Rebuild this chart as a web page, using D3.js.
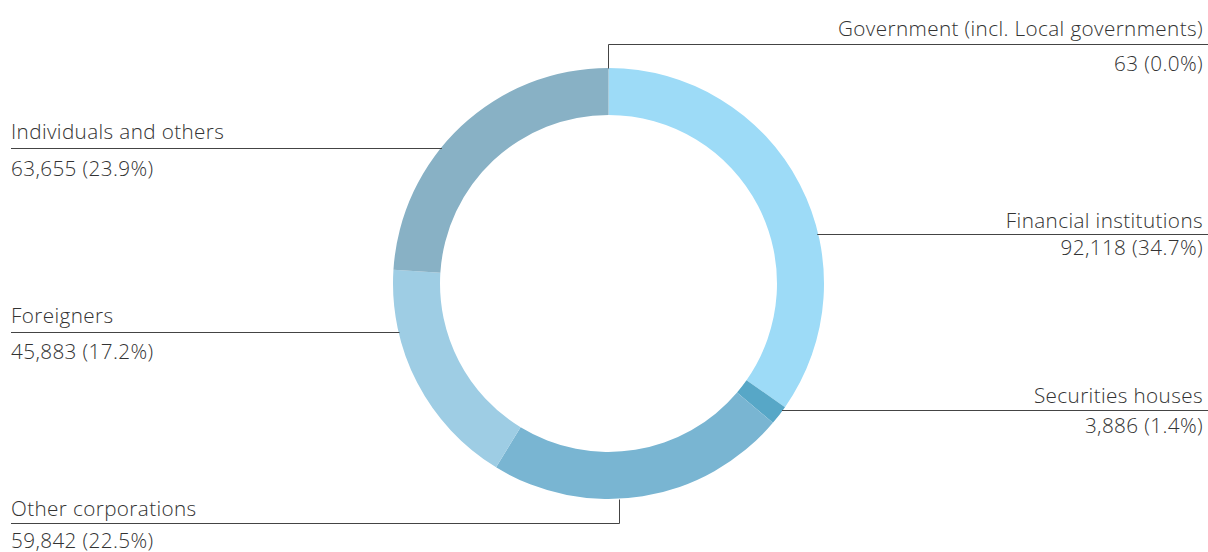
<!DOCTYPE html>
<html lang="en">
<head>
<meta charset="utf-8">
<style>
    body { margin: 0; background: #fff; }
    text { font-family: "Open Sans", "Noto Sans", sans-serif; font-size: 20.7px; font-weight: 300; letter-spacing: 0.38px; fill: #333; }
</style>
</head>
<body>
<script src="https://d3js.org/d3.v7.min.js"></script>
<svg width="1208" height="552"></svg>
<script>
    // data (clockwise from 12 o'clock)
    var categories = ["Government (incl. Local governments)", "Financial institutions", "Securities houses",
        "Other corporations", "Foreigners", "Individuals and others"];
    var values = [63, 92118, 3886, 59842, 45883, 63655];
    var shares = ["0.0%", "34.7%", "1.4%", "22.5%", "17.2%", "23.9%"];
    var colors = ["#8fb9cc", "#9ddbf7", "#57a7c7", "#79b5d2", "#9ecde4", "#88b1c5"];

    // label layout: side, y of leader line, optional elbow, text offsets from the line
    var labelSide = ["right", "right", "right", "left", "left", "left"];
    var labelY = [44, 234, 410, 523, 332, 148];
    var elbowX = [608.5, null, null, 619.5, null, null];
    var nameDy = [-8, -6, -7, -7, -9, -9];
    var valueDy = [27, 21, 23, 25, 27, 28];

    var svg = d3.select("svg");
    var cx = 608.5, cy = 283.5, outerR = 215.5, innerR = 168.5;

    var pie = d3.pie().sort(null).value(function (d) { return d; });
    var arc = d3.arc().innerRadius(innerR).outerRadius(outerR);
    var arcs = pie(values);

    var g = svg.append("g").attr("transform", "translate(" + cx + "," + cy + ")");
    g.selectAll("path")
        .data(arcs)
        .enter().append("path")
        .attr("d", arc)
        .attr("fill", function (d, i) { return colors[i]; });

    var leftX = 11, rightX = 1208, textRight = 1203;
    var lines = svg.append("g").attr("fill", "none").attr("stroke", "#444").attr("stroke-width", 1);

    categories.forEach(function (name, i) {
        var y = labelY[i];
        var side = labelSide[i];
        var pts;
        if (elbowX[i] !== null) {
            var ex = elbowX[i];
            var dx = ex - cx;
            var ey = cy + (y < cy ? -1 : 1) * Math.sqrt(outerR * outerR - dx * dx);
            pts = [[ex, ey], [ex, y], [side === "right" ? rightX : leftX, y]];
        } else {
            var dy = y - cy;
            var hx = Math.sqrt(outerR * outerR - dy * dy);
            var sx = side === "right" ? cx + hx - 1 : cx - hx + 1;
            pts = [[sx, y], [side === "right" ? rightX : leftX, y]];
        }
        lines.append("path").attr("d", d3.line()(pts.map(function (p) { return [p[0], Math.round(p[1]) + 0.5]; })));

        var tx = side === "right" ? textRight : leftX;
        var anchor = side === "right" ? "end" : "start";
        svg.append("text").attr("x", tx).attr("y", y + nameDy[i]).attr("text-anchor", anchor).text(name);
        svg.append("text").attr("x", tx).attr("y", y + valueDy[i]).attr("text-anchor", anchor)
            .text(d3.format(",")(values[i]) + " (" + shares[i] + ")");
    });
</script>
</body>
</html>
